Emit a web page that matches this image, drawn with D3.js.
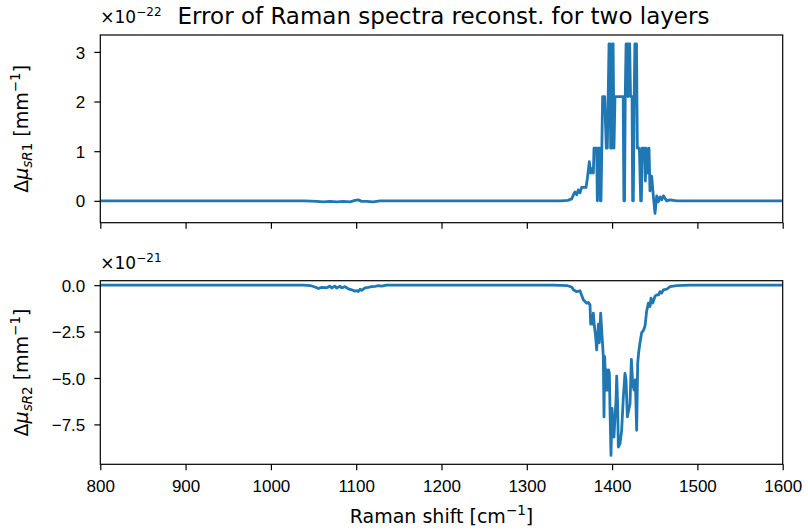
<!DOCTYPE html>
<html>
<head>
<meta charset="utf-8">
<script src="https://cdn.jsdelivr.net/npm/d3@7"></script>
<style>
  html, body { margin: 0; padding: 0; background: #fff; }
  svg { display: block; font-family: "DejaVu Sans", sans-serif; }
  .tick text { font-size: 17px; fill: #000; }
  .tick line { stroke: #000; stroke-width: 1.2; }
</style>
</head>
<body>
<svg id="chart" width="808" height="532"></svg>
<script>
// Raman shift grid (cm^-1) and reconstruction error for layer 1 (units of 1e-22 mm^-1)
const ramanShiftR1 = [800, 1040, 1053.7, 1061.5, 1069.3, 1077.1, 1085.0, 1092.8, 1098.6, 1102.5, 1106.4, 1112.3, 1120.1, 1128,
  1340, 1348, 1352.6, 1354.6, 1356.5, 1358.5, 1360.4, 1362.4, 1364.3, 1366.3, 1369.4, 1371.0, 1373.3, 1374.9, 1376.4, 1378.0,
  1378.8, 1381.9, 1382.7, 1383.5, 1385.4, 1386.2, 1387.0, 1388.9, 1391.3, 1393.2, 1394.4, 1395.4, 1396.4, 1397.4, 1398.3,
  1399.5, 1400.3, 1401.2, 1402.2, 1403.4, 1413.0, 1413.8, 1414.6, 1415.4, 1416.4, 1417.6, 1418.6, 1419.4, 1420.6, 1421.6,
  1423.4, 1424.1, 1424.9, 1425.9, 1426.7, 1428.6, 1429.6, 1432.0, 1433.5, 1434.3, 1435.4, 1437.0, 1438.2, 1439.0, 1440.1,
  1441.7, 1443.3, 1444.4, 1446.4, 1448.3, 1450.3, 1452.3, 1454.2, 1456.2, 1458.1, 1460.1, 1462.0, 1464.0, 1467.9, 1471.8,
  1475.7, 1600];
const errorR1 = [0, 0, -0.01, -0.02, -0.01, -0.02, -0.01, -0.02, 0.01, 0.02, -0.01, -0.01, -0.02, 0,
  0, 0.01, 0.04, 0.12, 0.18, 0.12, 0.22, 0.16, 0.27, 0.27, 0.27, 0.45, 0.79, 0.56, 0.65, 0.56,
  1.06, 1.06, 0, 1.06, 1.06, 0, 0, 2.1, 2.1, 1.06, 1.06, 2.1, 3.16, 3.16, 1.06,
  1.06, 3.16, 3.16, 1.06, 2.1, 2.1, 0, 0, 2.1, 3.16, 3.16, 2.1, 3.16, 3.16, 2.1,
  2.1, 0, 0, 2.1, 3.16, 3.16, 1.06, 1.06, 0, 0, 1.06, 1.06, 1.06, 0.4, 1.06,
  0.56, 1.06, 0.2, 0.5, 0.1, -0.25, 0.1, -0.02, 0.08, 0.02, 0.1, 0.05, 0, 0.02, 0.01,
  0, 0];

// Reconstruction error for layer 2 (units of 1e-21 mm^-1)
const ramanShiftR2 = [800, 1038, 1045.9, 1051.7, 1055.6, 1059.5, 1065.4, 1069.3, 1071.2, 1075.2, 1077.1, 1081.0, 1083.0,
  1086.9, 1090.8, 1094.7, 1098.6, 1100.6, 1102.5, 1104.5, 1106.4, 1110.3, 1114.2, 1118.1, 1122.1, 1126.0, 1129.9, 1135.7,
  1330, 1340, 1346.7, 1352.6, 1354.6, 1358.5, 1362.4, 1364.3, 1366.3, 1368.2, 1370.2, 1372.1, 1374.1, 1374.9, 1376.4,
  1377.2, 1378.0, 1379.2, 1380.7, 1381.9, 1383.1, 1383.9, 1385.0, 1386.6, 1387.8, 1389.0, 1389.7, 1390.5, 1391.3, 1392.5,
  1393.6, 1394.8, 1396.0, 1396.8, 1397.5, 1398.7, 1399.9, 1401.1, 1402.2, 1403.4, 1404.6, 1405.4, 1406.5, 1407.3, 1409.3,
  1411.2, 1413.2, 1415.1, 1416.3, 1417.9, 1419.4, 1421.0, 1422.6, 1424.1, 1425.7, 1427.2, 1428.8, 1430.0, 1431.2, 1432.7,
  1434.7, 1436.6, 1438.6, 1440.5, 1442.5, 1444.4, 1445.6, 1447.6, 1450.3, 1452.3, 1454.6, 1456.2, 1458.1, 1460.1, 1464.0,
  1467.9, 1475.7, 1491.3, 1600];
const errorR2 = [0, 0, -0.02, -0.1, -0.18, -0.12, -0.14, -0.05, -0.15, -0.05, -0.16, -0.05, -0.15,
  -0.08, -0.2, -0.25, -0.32, -0.3, -0.34, -0.22, -0.28, -0.15, -0.12, -0.08, -0.06, -0.03, -0.05, 0,
  0, -0.01, -0.02, -0.1, -0.25, -0.35, -0.3, -0.55, -0.79, -0.88, -0.97, -0.93, -1.06, -2.1, -1.75,
  -2.1, -1.51, -2.2, -2.77, -3.49, -2.77, -2.1, -3.1, -1.51, -2.4, -3.3, -3.85, -7.1, -3.85, -5.65,
  -4.57, -5.65, -4.57, -4.75, -6.64, -9.17, -6.64, -7.82, -8.18, -7.1, -6.2, -4.9, -6.5, -8.72, -8.54,
  -7.82, -6.0, -4.75, -5.1, -7.1, -6.74, -6.4, -4.0, -5.3, -5.65, -5.1, -7.82, -4.2, -3.6, -3.1,
  -2.55, -2.46, -2.2, -1.4, -0.97, -1.15, -0.7, -0.97, -0.6, -0.52, -0.52, -0.35, -0.43, -0.25, -0.22,
  -0.08, -0.02, 0, 0];

const xTicks = [800, 900, 1000, 1100, 1200, 1300, 1400, 1500, 1600];
const yTicksR1 = [0, 1, 2, 3];
const yTicksR2 = [0, -2.5, -5, -7.5];

const svg = d3.select("#chart");
const left = 100.3, right = 782.7;
const panels = [
  { top: 35, bottom: 222.7, xs: ramanShiftR1, ys: errorR1, domain: [-0.44, 3.34], ticks: yTicksR1,
    fmt: d => d3.format("d")(d).replace("-", "\u2212"), exp: "\u221222", sub: "sR1", showX: false },
  { top: 280.7, bottom: 464.3, xs: ramanShiftR2, ys: errorR2, domain: [-9.65, 0.24], ticks: yTicksR2,
    fmt: d => d3.format(".1f")(d).replace("-", "\u2212"), exp: "\u221221", sub: "sR2", showX: true }
];

const x = d3.scaleLinear().domain([800, 1600]).range([left, right]);

panels.forEach(p => {
  const y = d3.scaleLinear().domain(p.domain).range([p.bottom, p.top]);
  const g = svg.append("g");

  const clipId = "clip" + p.sub;
  svg.append("clipPath").attr("id", clipId).append("rect")
    .attr("x", left).attr("y", p.top).attr("width", right - left).attr("height", p.bottom - p.top);

  const line = d3.line().x(d => x(d[0])).y(d => y(d[1]));
  g.append("path")
    .datum(p.xs.map((v, i) => [v, p.ys[i]]))
    .attr("clip-path", `url(#${clipId})`)
    .attr("fill", "none")
    .attr("stroke", "#1f77b4")
    .attr("stroke-width", 2.8)
    .attr("stroke-linejoin", "round")
    .attr("stroke-linecap", "square")
    .attr("d", line);

  // y axis
  const ya = g.append("g").attr("transform", `translate(${left},0)`)
    .call(d3.axisLeft(y).tickValues(p.ticks).tickFormat(p.fmt).tickSize(6).tickSizeOuter(0).tickPadding(9));
  ya.select(".domain").remove();
  ya.selectAll(".tick text").attr("dy", "0.36em");

  // x axis
  const xa = g.append("g").attr("transform", `translate(0,${p.bottom})`)
    .call(d3.axisBottom(x).tickValues(xTicks).tickFormat(p.showX ? d3.format("d") : "").tickSize(6).tickSizeOuter(0).tickPadding(6));
  xa.select(".domain").remove();
  xa.selectAll(".tick text").attr("dy", "0.9em");

  // frame
  g.append("rect").attr("x", left).attr("y", p.top)
    .attr("width", right - left).attr("height", p.bottom - p.top)
    .attr("fill", "none").attr("stroke", "#000").attr("stroke-width", 1.2);

  // scale factor label
  const off = g.append("text").attr("x", left).attr("y", p.top - 12)
    .attr("font-size", 17).attr("fill", "#000");
  off.append("tspan").text("\u00d710");
  off.append("tspan").attr("font-size", 12).attr("dy", -7).text(p.exp);

  // y label
  const cy = (p.top + p.bottom) / 2;
  const yl = g.append("text")
    .attr("transform", `translate(28,${cy}) rotate(-90)`)
    .attr("text-anchor", "middle").attr("font-size", 19).attr("fill", "#000");
  yl.append("tspan").text("\u0394");
  yl.append("tspan").attr("font-style", "italic").text("\u03bc");
  yl.append("tspan").attr("font-size", 13.5).attr("dy", 4).attr("font-style", "italic").text(p.sub.slice(0, 2));
  yl.append("tspan").attr("font-size", 13.5).text(p.sub.slice(2));
  yl.append("tspan").attr("dy", -4).text(" [mm");
  yl.append("tspan").attr("font-size", 13.5).attr("dy", -8).text("\u22121");
  yl.append("tspan").attr("dy", 8).text("]");
});

// title
svg.append("text").attr("x", (left + right) / 2 + 2).attr("y", 24)
  .attr("text-anchor", "middle").attr("font-size", 23).attr("fill", "#000")
  .text("Error of Raman spectra reconst. for two layers");

// x label
const xl = svg.append("text").attr("x", (left + right) / 2).attr("y", 523)
  .attr("text-anchor", "middle").attr("font-size", 19).attr("fill", "#000");
xl.append("tspan").text("Raman shift [cm");
xl.append("tspan").attr("font-size", 13.5).attr("dy", -8).text("\u22121");
xl.append("tspan").attr("dy", 8).text("]");
</script>
</body>
</html>
